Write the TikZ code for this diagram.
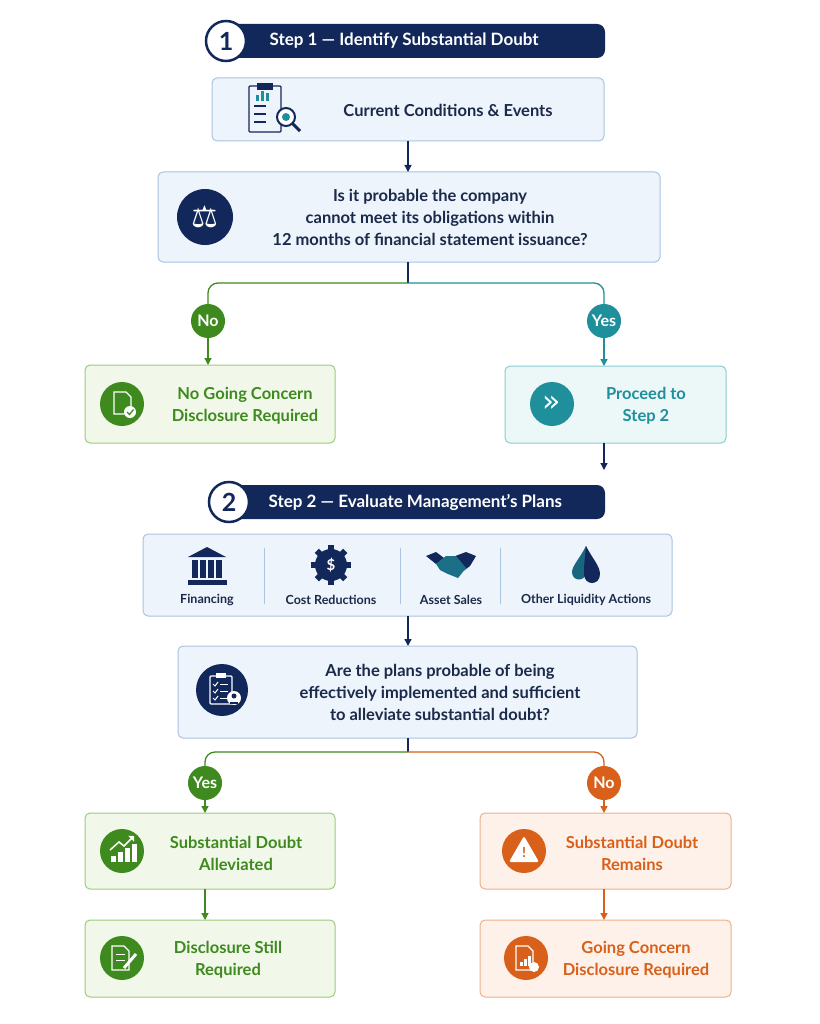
\documentclass[tikz,border=0pt]{standalone}
\usepackage{fontspec}
\setmainfont{Lato}
\newfontfamily\sym{DejaVu Sans}
\usetikzlibrary{arrows.meta}
\definecolor{navy}{HTML}{13285A}
\definecolor{bfill}{HTML}{EEF4FB}
\definecolor{bline}{HTML}{A9C4E0}
\definecolor{gr}{HTML}{3E8A1E}
\definecolor{gfill}{HTML}{F1F8EA}
\definecolor{gline}{HTML}{9CCB7E}
\definecolor{tl}{HTML}{1E8F9B}
\definecolor{tfill}{HTML}{ECF7F8}
\definecolor{tline}{HTML}{8CCBD1}
\definecolor{or}{HTML}{D9601A}
\definecolor{ofill}{HTML}{FDF1E9}
\definecolor{oline}{HTML}{EDB08A}
\definecolor{txt}{HTML}{1B2A4A}
\tikzset{
 box/.style={draw=#1line,fill=#1fill,rounded corners=5pt,line width=1pt},
 lbl/.style={font=\bfseries\fontsize{16.5}{22}\selectfont,align=center},
 ico/.style={circle,fill=#1,minimum size=44pt,inner sep=0pt,text=white,font=\sym\fontsize{30}{30}\selectfont},
 dec/.style={circle,fill=#1,minimum size=34pt,inner sep=0pt,text=white,font=\bfseries\fontsize{16}{16}\selectfont},
 arr/.style={-{Triangle[length=7pt,width=7pt]},line width=1.3pt,draw=#1},
 ln/.style={line width=1.3pt,draw=#1},
 small/.style={font=\bfseries\fontsize{12.5}{14}\selectfont,text=txt},
 banner/.style={text=white,font=\bfseries\fontsize{17}{20}\selectfont,anchor=west},
 num/.style={circle,draw=navy,fill=white,line width=2.5pt,minimum size=40pt,inner sep=0pt,font=\bfseries\fontsize{25}{25}\selectfont,text=navy},
}
\begin{document}
\begin{tikzpicture}[x=1pt,y=-1pt]
\useasboundingbox[fill=white] (0,0) rectangle (819,1024);
% Step 1 banner
\fill[navy,rounded corners=8pt] (225,24) rectangle (605,58);
\node[num] (s1) at (226,41) {1};
\node[banner] (s1t) at (266,41) {Step 1 — Identify Substantial Doubt};
% current conditions
\draw[box=b] (212,78) rectangle (604,141);
\node[lbl,text=txt] (cct) at (448,110) {Current Conditions \& Events};
\draw[navy,line width=1.2pt,rounded corners=1pt] (249,86) rectangle (281,132);
\fill[navy] (257,83) rectangle (273,90);
\foreach \yy in {106,114,122} \draw[navy,line width=1.2pt] (254,\yy)--(266,\yy);
\foreach \xx/\hh in {256/6,261/10,266/8} \fill[tl] (\xx,101) rectangle (\xx+3,101-\hh);
\draw[navy,line width=2pt,fill=white] (286,117) circle (9);
\draw[navy,line width=3pt] (292,123)--(300,131);
\fill[tl] (286,117) circle (4);
% question 1
\draw[box=b] (158,172) rectangle (660,262);
\node[ico=navy,minimum size=56pt] (q1i) at (205,217) {⚖};
\node[lbl,text=txt] (q1) at (430,217) {Is it probable the company\\cannot meet its obligations within\\12 months of financial statement issuance?};
\coordinate (cct1) at (408,141); \coordinate (q1top) at (408,172);
\draw[arr=navy] (cct1)--(q1top);
% branches 1
\coordinate (q1b) at (408,262); \coordinate (j1) at (408,283);
\draw[ln=navy] (q1b)--(j1);
\node[dec=gr] (no1) at (208,321) {No};
\node[dec=tl] (yes1) at (604,321) {Yes};
\draw[ln=gr,rounded corners=10pt] (j1)--(208,283)--(no1.north);
\draw[ln=tl,rounded corners=10pt] (j1)--(604,283)--(yes1.north);
\draw[box=g] (85,365) rectangle (335,443);
\node[ico=gr] (nci) at (122,404) {};
\draw[white,line width=1.3pt] (114,392)--(126,392)--(131,397)--(131,414)--(114,414)--cycle;
\fill[white] (130,412) circle (6); \draw[gr,line width=1.3pt] (127,412)--(129.5,414.5)--(133.5,409.5);
\node[lbl,text=gr] (nc) at (245,406) {No Going Concern\\Disclosure Required};
\draw[box=t] (505,366) rectangle (726,443);
\node[ico=tl] (pi) at (552,404) {»};
\node[lbl,text=tl] (pr) at (646,406) {Proceed to\\Step 2};
\draw[arr=gr] (no1.south)--(208,365);
\draw[arr=tl] (yes1.south)--(604,366);
\coordinate (prb) at (604,443); \coordinate (pre) at (604,470);
\draw[arr=navy] (prb)--(pre);
% Step 2 banner
\fill[navy,rounded corners=8pt] (228,485) rectangle (605,519);
\node[num] (s2) at (229,502) {2};
\node[banner] (s2t) at (265,502) {Step 2 — Evaluate Management’s Plans};
% plans
\draw[box=b] (143,534) rectangle (672,616);
\foreach \xx in {264,400,500} \draw[bline] (\xx,548)--(\xx,604);
\node[small] (f) at (207,600) {Financing};
\node[small] (c) at (331,600) {Cost Reductions};
\node[small] (a) at (451,600) {Asset Sales};
\node[small] (o) at (586,600) {Other Liquidity Actions};
\fill[navy] (207,547)--(226,557)--(188,557)--cycle;
\foreach \xx in {192,200,208,216} \fill[navy] (\xx,560) rectangle (\xx+6,578);
\fill[navy] (188,580) rectangle (227,585);
\fill[navy] (331,565) circle (16);
\foreach \a in {0,45,...,315} \fill[navy,rotate around={\a:(331,565)}] (328,545) rectangle (334,552);
\node[text=white,font=\bfseries\fontsize{15}{15}\selectfont] at (331,565) {\$};
\fill[navy] (426,556)--(436,552)--(444,558)--(436,564)--cycle;
\fill[navy] (476,556)--(466,552)--(450,558)--(462,572)--(470,566)--cycle;
\fill[tl!70!navy] (436,564)--(446,556)--(456,556)--(466,568)--(458,578)--(448,574)--(440,570)--cycle;
\fill[tl!60!navy] (586,546) .. controls (580,558) and (572,566) .. (572,572) .. controls (572,582) and (586,582) .. (586,572) .. controls (586,566) .. (586,546);
\fill[navy] (586,546) .. controls (592,558) and (600,566) .. (600,574) .. controls (600,586) and (584,586) .. (584,574) .. controls (584,566) .. (586,546);
% question 2
\coordinate (plb) at (408,616); \coordinate (q2t) at (408,646);
\draw[arr=navy] (plb)--(q2t);
\draw[box=b] (178,646) rectangle (637,738);
\node[ico=navy,minimum size=52pt] (q2i) at (222,690) {};
\draw[white,line width=1.3pt,rounded corners=1pt] (210,676) rectangle (232,704);
\fill[white] (216,673) rectangle (226,678);
\foreach \yy in {684,691,698} {\draw[white,line width=1pt] (213,\yy)--(215,\yy+2)--(218,\yy-2); \draw[white,line width=1pt] (220,\yy)--(228,\yy);}
\fill[white] (234,698) circle (7); \fill[navy] (234,696) circle (2.5); \fill[navy] (230,702) rectangle (238,704);
\node[lbl,text=txt] (q2) at (440,692) {Are the plans probable of being\\effectively implemented and sufficient\\to alleviate substantial doubt?};
\coordinate (q2b) at (408,738); \coordinate (j2) at (408,752);
\draw[ln=navy] (q2b)--(j2);
\node[dec=gr] (yes2) at (205,783) {Yes};
\node[dec=or] (no2) at (604,783) {No};
\draw[ln=gr,rounded corners=10pt] (j2)--(205,752)--(yes2.north);
\draw[ln=or,rounded corners=10pt] (j2)--(604,752)--(no2.north);
% left
\draw[box=g] (85,813) rectangle (335,889);
\node[ico=gr] (sai) at (122,851) {};
\foreach \xx/\hh in {111/6,118/10,125/14,132/18} \fill[white] (\xx,862) rectangle (\xx+5,862-\hh);
\draw[white,line width=1.5pt,-{Triangle[length=4pt]}] (110,850)--(119,842)--(124,846)--(134,836);
\node[lbl,text=gr] (sa) at (236,853) {Substantial Doubt\\Alleviated};
\draw[box=g] (85,920) rectangle (335,997);
\node[ico=gr] (dsi) at (122,958) {};
\draw[white,line width=1.3pt] (112,946)--(124,946)--(129,951)--(129,970)--(112,970)--cycle;
\foreach \yy in {954,960} \draw[white] (116,\yy)--(125,\yy);
\draw[white,line width=3pt] (124,968)--(136,954);
\node[lbl,text=gr] (ds) at (228,960) {Disclosure Still\\Required};
\draw[arr=gr] (yes2.south)--(205,813);
\coordinate (sab) at (205,889); \coordinate (dst) at (205,920);
\draw[arr=gr] (sab)--(dst);
% right
\draw[box=o] (480,813) rectangle (731,889);
\node[ico=or] (sri) at (524,851) {};
\fill[white,rounded corners=2pt] (524,836)--(539,862)--(509,862)--cycle;
\node[text=or,font=\bfseries\fontsize{14}{14}\selectfont] at (524,852) {!};
\node[lbl,text=or] (sr) at (632,853) {Substantial Doubt\\Remains};
\draw[box=o] (480,920) rectangle (731,997);
\node[ico=or] (gci) at (526,958) {};
\draw[white,line width=1.3pt] (516,946)--(528,946)--(533,951)--(533,970)--(516,970)--cycle;
\foreach \xx/\hh in {520/4,524/7,528/10} \fill[white] (\xx,966) rectangle (\xx+2.5,966-\hh);
\fill[white] (534,967) circle (5);
\node[lbl,text=or] (gc) at (636,960) {Going Concern\\Disclosure Required};
\draw[arr=or] (no2.south)--(604,813);
\coordinate (srb) at (604,889); \coordinate (gct) at (604,920);
\draw[arr=or] (srb)--(gct);
\end{tikzpicture}
\end{document}
